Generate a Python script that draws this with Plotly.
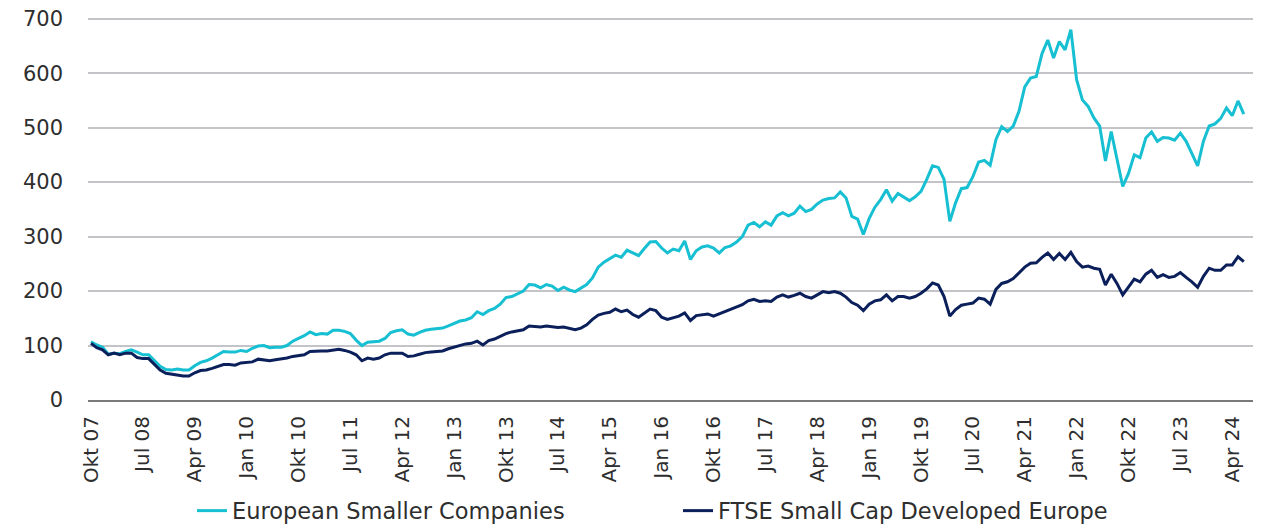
import plotly.graph_objects as go

months = ["Okt 07", "Jul 08", "Apr 09", "Jan 10", "Okt 10", "Jul 11", "Apr 12", "Jan 13",
          "Okt 13", "Jul 14", "Apr 15", "Jan 16", "Okt 16", "Jul 17", "Apr 18", "Jan 19",
          "Okt 19", "Jul 20", "Apr 21", "Jan 22", "Okt 22", "Jul 23", "Apr 24"]
tick_index = [i * 9 for i in range(len(months))]
y_ticks = [0, 100, 200, 300, 400, 500, 600, 700]

european_smaller = [
    107, 101, 97, 84, 86, 85, 89, 92, 88, 83,
    83, 72, 62, 56, 55, 57, 55, 55, 63, 69,
    72, 77, 83, 89, 88, 88, 91, 89, 95, 99,
    100, 96, 97, 97, 100, 108, 113, 118, 125, 120,
    122, 121, 128, 128, 126, 122, 110, 100, 106, 107,
    108, 113, 124, 127, 129, 121, 119, 124, 128, 130,
    131, 132, 136, 140, 145, 147, 151, 162, 157, 164,
    168, 176, 188, 190, 195, 200, 212, 211, 206, 212,
    209, 201, 207, 202, 199, 205, 212, 224, 244, 253,
    259, 266, 262, 275, 270, 265, 278, 290, 291, 279,
    270, 277, 274, 292, 258, 274, 281, 283, 279, 270,
    280, 283, 290, 300, 321, 326, 318, 327, 321, 338,
    344, 338, 343, 356, 346, 350, 360, 367, 370, 371,
    382, 371, 337, 332, 304, 333, 354, 368, 386, 365,
    379, 372, 366, 373, 383, 405, 430, 427, 405, 328,
    362, 388, 390, 410, 437, 440, 431, 478, 502, 493,
    503, 530, 575, 591, 594, 636, 661, 628, 658, 643,
    680, 588, 551, 539, 518, 503, 439, 493, 441, 392,
    416, 450, 445, 481, 492, 475, 482, 481, 477, 490,
    475, 453, 430, 475, 503, 507, 517, 536, 522, 549,
    525,
]

ftse_small_cap = [
    104, 96, 92, 83, 86, 83, 86, 86, 78, 76,
    76, 66, 55, 49, 47, 46, 44, 44, 50, 54,
    55, 58, 62, 65, 65, 64, 68, 69, 70, 75,
    73, 72, 74, 75, 77, 80, 82, 83, 89, 90,
    90, 90, 92, 93, 91, 88, 83, 72, 77, 75,
    77, 83, 86, 86, 86, 80, 81, 84, 87, 88,
    89, 90, 94, 97, 101, 103, 104, 108, 101, 109,
    112, 117, 122, 125, 127, 129, 136, 135, 134, 136,
    135, 133, 134, 132, 129, 132, 138, 148, 156, 159,
    161, 167, 162, 165, 157, 152, 160, 167, 164, 152,
    148, 151, 154, 160, 146, 155, 157, 158, 154, 158,
    163, 166, 170, 175, 182, 185, 181, 182, 181, 189,
    193, 189, 192, 196, 190, 187, 193, 199, 197, 199,
    196, 189, 179, 174, 164, 176, 182, 184, 193, 182,
    190, 190, 187, 190, 196, 204, 215, 211, 190, 154,
    166, 174, 176, 178, 187, 185, 176, 203, 214, 217,
    223, 234, 244, 251, 252, 262, 270, 258, 269, 258,
    271, 254, 244, 246, 242, 240, 211, 231, 214, 193,
    208, 222, 217, 231, 238, 225, 230, 225, 227, 234,
    225, 217, 207, 227, 242, 238, 238, 248, 248, 263,
    254,
]

series_names = ["European Smaller Companies", "FTSE Small Cap Developed Europe"]
series_colors = ["#16BFD1", "#0B1F5B"]

x_index = list(range(len(european_smaller)))
FONT = "DejaVu Sans"
TXT = "#2e2e2e"
W, H = 1263, 516

fig = go.Figure()
for name, vals, col in zip(series_names, [european_smaller, ftse_small_cap], series_colors):
    fig.add_trace(go.Scatter(
        x=x_index, y=vals, mode="lines", name=name,
        line=dict(color=col, width=3), hoverinfo="skip",
    ))

fig.update_layout(
    width=W, height=H,
    margin=dict(l=80, r=18, t=8, b=124, autoexpand=False),
    paper_bgcolor="white", plot_bgcolor="white",
    font=dict(family=FONT, size=20, color=TXT),
    showlegend=True,
    legend=dict(
        orientation="h", xref="container", yref="container",
        x=184 / W, xanchor="left", y=13 / H, yanchor="middle",
        entrywidth=441, entrywidthmode="pixels",
        font=dict(family=FONT, size=22.5, color=TXT),
        bgcolor="rgba(0,0,0,0)",
    ),
    xaxis=dict(
        range=[-0.52, 201.6], tickmode="array", tickvals=tick_index, ticktext=months,
        tickangle=-90, showgrid=False, zeroline=False,
        showline=True, linecolor="#7a7a7a", linewidth=2,
        ticks="", ticklabelstandoff=6,
        tickfont=dict(family=FONT, size=20, color=TXT),
    ),
    yaxis=dict(
        range=[0, 705], tickmode="array", tickvals=y_ticks,
        showgrid=True, gridcolor="#C3C3C8", gridwidth=1.5,
        zeroline=False, showline=False, ticks="", ticklabelstandoff=24,
        ticklabeloverflow="allow",
        tickfont=dict(family=FONT, size=21, color=TXT),
    ),
)

fig.write_html("out.html", config={"displayModeBar": False})
